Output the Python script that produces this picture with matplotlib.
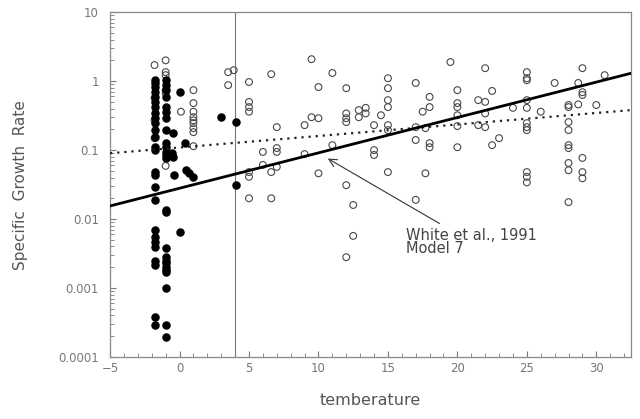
import numpy as np
import matplotlib.pyplot as plt
from matplotlib.ticker import FixedLocator, NullFormatter

# filled circles (sea ice / cold samples)
ice_x = [-1.8] * 26 + [-1.0] * 25 + [0.0, -0.45, 0.4, -0.55, -0.45, 3.0, 4.1, -0.4, 0.5, 0.7, 0.95, 0.05, 4.1]
ice_y = [1.03, 0.94, 0.82, 0.69, 0.59, 0.50, 0.42, 0.34, 0.29, 0.246, 0.195, 0.154, 0.11, 0.10,
         0.048, 0.043, 0.029, 0.019, 0.0069, 0.0055, 0.0046, 0.0039, 0.0025, 0.00215, 0.00038, 0.00029,
         1.03, 0.875, 0.74, 0.59, 0.42, 0.36, 0.29, 0.195, 0.126, 0.11, 0.094, 0.085, 0.077,
         0.0135, 0.0126, 0.0038, 0.0028, 0.0025, 0.0023, 0.002, 0.0018, 0.0017, 0.001, 0.00029, 0.000195,
         0.69, 0.176, 0.126, 0.09, 0.079, 0.30, 0.255, 0.043, 0.051, 0.046, 0.041, 0.0065, 0.031]

# open circles, grouped by temperature
open_groups = {
    -1.8: [1.71, 0.57, 0.27, 0.149],
    -1.0: [2.0, 1.35, 1.22, 0.74, 0.67, 0.059],
    0.1: [0.36],
    1.0: [0.74, 0.48, 0.36, 0.30, 0.27, 0.246, 0.208, 0.182, 0.114],
    3.5: [1.35, 0.875],
    3.9: [1.44],
    5.0: [0.97, 0.50, 0.42, 0.36, 0.048, 0.041, 0.020],
    6.0: [0.094, 0.061],
    6.6: [1.26, 0.048, 0.020],
    7.0: [0.215, 0.107, 0.094, 0.057],
    9.0: [0.23, 0.0875],
    9.5: [2.08, 0.30],
    10.0: [0.82, 0.29, 0.046],
    11.0: [1.31, 0.118],
    12.0: [0.79, 0.34, 0.29, 0.255, 0.031, 0.0028],
    12.5: [0.016, 0.0057],
    12.9: [0.38, 0.30],
    13.4: [0.41, 0.34],
    14.0: [0.23, 0.10, 0.085],
    14.5: [0.32],
    15.0: [1.10, 0.79, 0.53, 0.42, 0.23, 0.195, 0.048],
    17.0: [0.94, 0.215, 0.14, 0.019],
    17.5: [0.36],
    17.7: [0.208, 0.046],
    18.0: [0.59, 0.42, 0.126, 0.11],
    19.5: [1.89],
    20.0: [0.74, 0.48, 0.42, 0.32, 0.223, 0.11],
    21.5: [0.53, 0.23],
    22.0: [1.54, 0.50, 0.34, 0.215],
    22.5: [0.72, 0.118],
    23.0: [0.149],
    24.0: [0.41],
    25.0: [1.35, 1.10, 1.03, 0.53, 0.41, 0.246, 0.215, 0.195, 0.048, 0.041, 0.034],
    26.0: [0.36],
    27.0: [0.94],
    28.0: [0.45, 0.42, 0.255, 0.195, 0.118, 0.107, 0.065, 0.051, 0.0176],
    28.7: [0.94, 0.46],
    29.0: [1.54, 0.69, 0.63, 0.077, 0.048, 0.039],
    30.0: [0.45],
    30.6: [1.22],
}
open_x = [t for t, ys in open_groups.items() for _ in ys]
open_y = [v for ys in open_groups.values() for v in ys]

# model lines (end points)
line_x = [-5, 32.5]
model7_y = [0.0155, 1.3]
dotted_y = [0.09, 0.38]

grey = '#555555'

fig = plt.figure(figsize=(6.4, 4.19), dpi=100)
ax = fig.add_axes([0.172, 0.148, 0.814, 0.823])

ax.set_yscale('log')
ax.set_xlim(-5, 32.5)
ax.set_ylim(1e-4, 10)

ax.axvline(4, color='#777777', lw=0.8, zorder=1)

ax.scatter(open_x, open_y, s=24, facecolors='none', edgecolors='#484848', linewidths=0.8, zorder=2)
ax.scatter(ice_x, ice_y, s=26, color='black', zorder=3)

ax.plot(line_x, dotted_y, color='#222222', lw=1.6, ls=(0, (1, 2.2)), zorder=4)
ax.plot(line_x, model7_y, color='black', lw=2.0, zorder=4)

ax.annotate('White et al., 1991\nModel 7', xy=(10.5, 0.079), xytext=(16.3, 0.0075),
            fontsize=10.5, color='#444444', va='top', ha='left', linespacing=0.9,
            arrowprops=dict(arrowstyle='->', color='#333333', lw=0.8, mutation_scale=14))

ax.set_xticks([-5, 0, 5, 10, 15, 20, 25, 30])
ax.xaxis.set_minor_locator(FixedLocator(np.arange(-5, 33, 1)))
ax.set_yticks([1e-4, 1e-3, 1e-2, 1e-1, 1, 10])
ax.set_yticklabels(['0.0001', '0.001', '0.01', '0.1', '1', '10'])
ax.yaxis.set_minor_formatter(NullFormatter())

ax.tick_params(which='both', direction='in', colors='#777777', labelcolor='#777777', labelsize=8.5,
               top=False, right=False)
ax.tick_params(axis='y', which='major', pad=8)
ax.tick_params(which='major', length=4, width=0.8)
ax.tick_params(which='minor', length=3, width=0.6)
for sp in ax.spines.values():
    sp.set_color('#888888')
    sp.set_linewidth(0.9)

ax.set_ylabel('Specific  Growth  Rate', fontsize=11, color=grey, labelpad=22)
ax.set_xlabel('temberature', fontsize=11.5, color=grey, labelpad=13)

plt.savefig('out.png', dpi=100)
